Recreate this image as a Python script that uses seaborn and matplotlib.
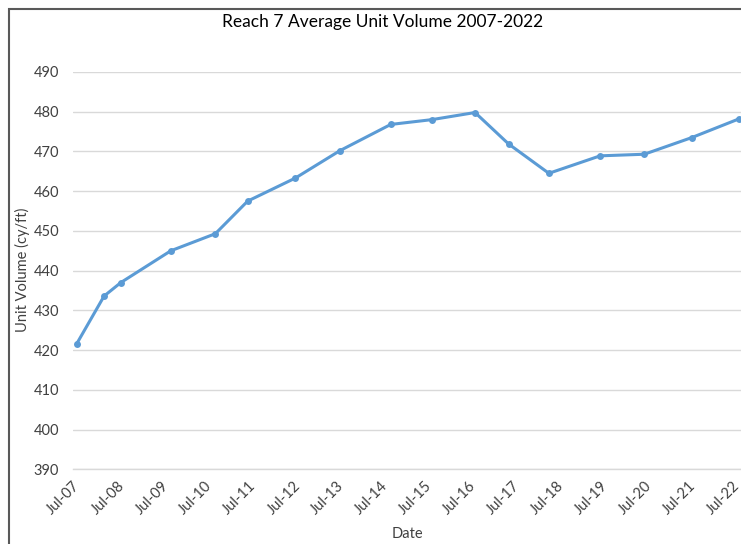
import matplotlib.pyplot as plt
import matplotlib.dates as mdates
from matplotlib.patches import Rectangle
import pandas as pd
import seaborn as sns

# survey dates and average unit volume (cy/ft)
dates = ["2007-08-01", "2008-03-15", "2008-08-01", "2009-09-20", "2010-09-25",
         "2011-06-20", "2012-07-20", "2013-07-25", "2014-09-20", "2015-08-25",
         "2016-08-20", "2017-05-25", "2018-04-25", "2019-06-25", "2020-06-25",
         "2021-07-25", "2022-08-20"]
volume = [421.6, 433.6, 437.0, 445.0, 449.3, 457.5, 463.3, 470.2, 476.8, 478.0,
          479.8, 471.9, 464.5, 468.9, 469.3, 473.5, 478.2]

title = "Reach 7 Average Unit Volume 2007-2022"

df = pd.DataFrame({"date": pd.to_datetime(dates), "volume": volume})

sns.set_style("white")
plt.rcParams["font.family"] = ["Lato", "DejaVu Sans"]

fig = plt.figure(figsize=(7.41, 5.44), dpi=100)
W, H = 741, 544
ax_h = 469.3 - 72
ax = fig.add_axes([73 / W, 1 - 469.3 / H, 671 / W, ax_h / H])

line_col = "#5B9BD5"
grid_col = "#D9D9D9"

sns.lineplot(data=df, x="date", y="volume", ax=ax, color=line_col,
             linewidth=2.2, marker="o", markersize=5, markeredgewidth=0,
             zorder=3)

ax.set_ylim(390, 490)
ax.set_yticks(range(390, 491, 10))
ax.set_xlim(pd.Timestamp("2007-07-01"), pd.Timestamp("2022-10-01"))
ax.xaxis.set_major_locator(mdates.MonthLocator(bymonth=7))
ax.xaxis.set_minor_locator(mdates.MonthLocator(bymonth=1))
ax.xaxis.set_major_formatter(mdates.DateFormatter("%b-%y"))

ax.grid(axis="y", color=grid_col, linewidth=1, zorder=0)
for s in ["top", "right", "left"]:
    ax.spines[s].set_visible(False)
ax.spines["bottom"].set_color(grid_col)
ax.spines["bottom"].set_linewidth(1)

ax.tick_params(axis="y", length=0, labelsize=10.5, colors="#404040", pad=10)
ax.tick_params(axis="x", which="both", length=5, color=grid_col,
               labelsize=10.5, labelcolor="#404040", pad=2)
for lab in ax.get_xticklabels():
    lab.set_rotation(45)
    lab.set_ha("right")
    lab.set_rotation_mode("anchor")

ax.set_xlabel("Date", fontsize=10.5, color="#404040")
ax.set_ylabel("Unit Volume (cy/ft)", fontsize=10.5, color="#404040")
ax.xaxis.set_label_coords((407 - 73) / 671, -(534 - 469.3) / ax_h)
ax.xaxis.label.set_va("center")
ax.yaxis.set_label_coords((22 - 73) / 671, (469.3 - 270) / ax_h)
ax.yaxis.label.set_va("center")

fig.text(383 / W, 1 - 22 / H, title, ha="center", va="center",
         fontsize=12.5, color="#000000")

# outer chart frame (cropped on the right and bottom)
fig.add_artist(Rectangle((9 / W, -0.1), 1.2, 1 - 9 / H + 0.1,
                         transform=fig.transFigure, fill=False,
                         edgecolor="#595959", linewidth=1.5))

fig.savefig("out.png", dpi=100)
